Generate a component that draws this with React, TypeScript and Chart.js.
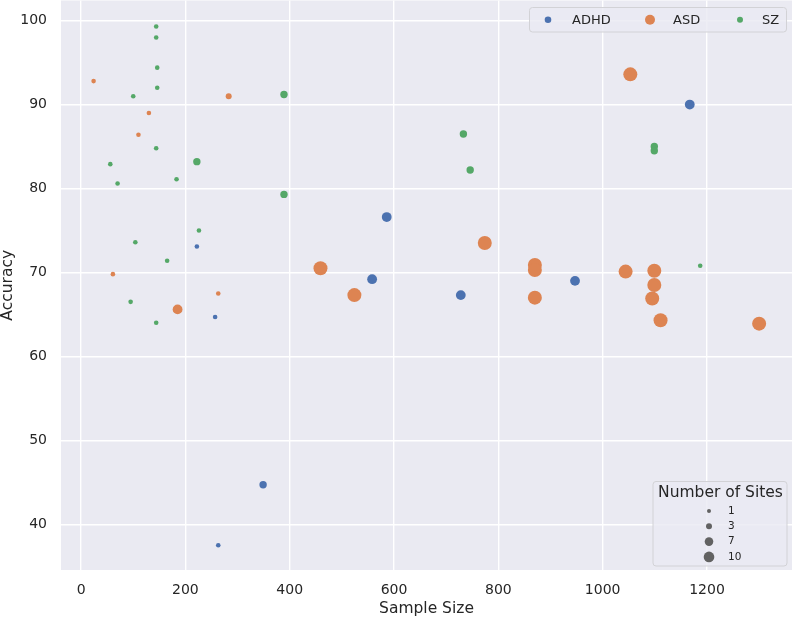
import React, { useEffect, useRef } from "react";
import { Chart, registerables } from "chart.js";

Chart.register(...registerables);

// ---------------- data ----------------
const categories = ["ADHD", "ASD", "SZ"];

const adhdSampleSize = [222, 586, 558, 257, 349, 263, 1167, 728, 947];
const adhdAccuracy = [73.1, 76.6, 69.2, 64.7, 44.7, 37.5, 90.0, 67.3, 69.0];
const adhdSites = [1, 7, 7, 1, 3, 1, 7, 7, 7];

const asdSampleSize = [24, 130, 110, 283, 61, 263, 185, 459, 524, 1053, 774, 870, 870, 870, 1044, 1099, 1099, 1095, 1111, 1300];
const asdAccuracy = [92.8, 89.0, 86.4, 91.0, 69.8, 67.5, 65.6, 70.5, 67.3, 93.6, 73.5, 70.9, 70.3, 67.0, 70.1, 70.2, 68.5, 66.9, 64.3, 63.9];
const asdSites = [1, 1, 1, 2, 1, 1, 7, 10, 10, 10, 10, 10, 10, 10, 10, 10, 10, 10, 10, 10];

const szSampleSize = [144, 144, 146, 146, 100, 144, 56, 70, 183, 222, 389, 389, 226, 104, 165, 95, 144, 733, 746, 1099, 1099, 1187];
const szAccuracy = [99.3, 98.0, 94.4, 92.0, 91.0, 84.8, 82.9, 80.6, 81.1, 83.2, 91.2, 79.3, 75.0, 73.6, 71.4, 66.5, 64.0, 86.5, 82.2, 85.0, 84.5, 70.8];
const szSites = [1, 1, 1, 1, 1, 1, 1, 1, 1, 3, 3, 3, 1, 1, 1, 1, 1, 3, 3, 3, 3, 1];

const sizeLegendLevels = [1, 3, 7, 10];
const xTicks = [0, 200, 400, 600, 800, 1000, 1200];
const yTicks = [40, 50, 60, 70, 80, 90, 100];

const xTitle = "Sample Size";
const yTitle = "Accuracy";
const sizeLegendTitle = "Number of Sites";

// ---------------- styles ----------------
const COLORS = ["#4c72b0", "#dd8452", "#55a868"];
const LEGEND_MARKER_R = [3.3, 5, 3];
const TEXT = "#262626";
const FONT = "DejaVu Sans";

// radius (px) for a number of sites, piecewise interpolation
const radiusKnots = [1, 3, 7, 10];
const radiusVals = [2.3, 3.7, 4.9, 7];
function radiusFor(s: number): number {
  if (s <= radiusKnots[0]) return radiusVals[0];
  for (let i = 1; i < radiusKnots.length; i++) {
    if (s <= radiusKnots[i]) {
      const t = (s - radiusKnots[i - 1]) / (radiusKnots[i] - radiusKnots[i - 1]);
      return radiusVals[i - 1] + t * (radiusVals[i] - radiusVals[i - 1]);
    }
  }
  return radiusVals[radiusVals.length - 1];
}
const legendSizeR = [2, 3, 4.3, 5.3];

const seriesX = [adhdSampleSize, asdSampleSize, szSampleSize];
const seriesY = [adhdAccuracy, asdAccuracy, szAccuracy];
const seriesS = [adhdSites, asdSites, szSites];

const bgPlugin = {
  id: "bgArea",
  beforeDraw(chart: any) {
    const { ctx, chartArea: a } = chart;
    ctx.save();
    ctx.fillStyle = "#eaeaf2";
    ctx.fillRect(a.left, a.top, a.right - a.left, a.bottom - a.top);
    ctx.restore();
  },
};

const legendPlugin = {
  id: "customLegends",
  afterDraw(chart: any) {
    const { ctx, chartArea: a } = chart;
    ctx.save();
    // category legend
    const bx0 = a.right - 263;
    const bx1 = a.right - 6;
    const by0 = a.top + 6.5;
    const by1 = a.top + 31;
    ctx.beginPath();
    (ctx as any).roundRect(bx0 + 0.5, by0 + 0.5, bx1 - bx0, by1 - by0, 3);
    ctx.fillStyle = "rgba(234,234,242,0.8)";
    ctx.fill();
    ctx.strokeStyle = "#d2d2d6";
    ctx.lineWidth = 1;
    ctx.stroke();
    const markerX = [19, 121, 211];
    const textX = [43, 144, 233];
    const cy = (by0 + by1) / 2 + 0.5;
    ctx.font = `13px "${FONT}"`;
    ctx.textBaseline = "middle";
    ctx.textAlign = "left";
    categories.forEach((c, i) => {
      ctx.beginPath();
      ctx.arc(bx0 + markerX[i], cy, LEGEND_MARKER_R[i], 0, Math.PI * 2);
      ctx.fillStyle = COLORS[i];
      ctx.fill();
      ctx.fillStyle = TEXT;
      ctx.fillText(c, bx0 + textX[i], cy + 0.5);
    });

    // size legend
    const sx0 = a.right - 139.5;
    const sx1 = a.right - 5.5;
    const sy0 = a.bottom - 89;
    const sy1 = a.bottom - 4.5;
    ctx.beginPath();
    (ctx as any).roundRect(sx0 + 0.5, sy0 + 0.5, sx1 - sx0, sy1 - sy0, 3);
    ctx.fillStyle = "rgba(234,234,242,0.8)";
    ctx.fill();
    ctx.strokeStyle = "#d2d2d6";
    ctx.stroke();
    ctx.fillStyle = TEXT;
    ctx.font = `15.5px "${FONT}"`;
    ctx.textAlign = "center";
    ctx.fillText(sizeLegendTitle, (sx0 + sx1) / 2 + 1, sy0 + 12);
    ctx.font = `10.5px "${FONT}"`;
    ctx.textAlign = "left";
    sizeLegendLevels.forEach((lv, i) => {
      const yy = sy0 + 30 + i * 15.3;
      ctx.beginPath();
      ctx.arc(sx0 + 56.5, yy, legendSizeR[i], 0, Math.PI * 2);
      ctx.fillStyle = "#626262";
      ctx.fill();
      ctx.fillStyle = TEXT;
      ctx.fillText(String(lv), sx0 + 75.5, yy);
    });
    ctx.restore();
  },
};

function zeroPad(s: any) {
  s.paddingTop = 0;
  s.paddingBottom = 0;
  s.paddingLeft = 0;
  s.paddingRight = 0;
}

export default function App() {
  const ref = useRef<HTMLCanvasElement | null>(null);
  useEffect(() => {
    if (!ref.current) return;
    const datasets = categories.map((c, i) => ({
      label: c,
      data: seriesX[i].map((x, j) => ({ x, y: seriesY[i][j] })),
      backgroundColor: COLORS[i],
      borderWidth: 0,
      pointRadius: (ctx: any) => radiusFor(seriesS[i][ctx.dataIndex] ?? 1),
      pointHoverRadius: (ctx: any) => radiusFor(seriesS[i][ctx.dataIndex] ?? 1),
    }));
    const chart = new Chart(ref.current, {
      type: "scatter",
      data: { datasets },
      options: {
        responsive: false,
        devicePixelRatio: 1,
        animation: false,
        layout: { autoPadding: false, padding: { top: 0.5, right: 2, left: 0, bottom: 0 } },
        plugins: { legend: { display: false }, tooltip: { enabled: false } },
        scales: {
          x: {
            type: "linear",
            min: -38.5,
            max: 1363,
            afterFit: (s: any) => {
              s.height = 49;
              zeroPad(s);
            },
            afterBuildTicks: (s: any) => {
              s.ticks = xTicks.map((v) => ({ value: v }));
            },
            grid: { color: "#ffffff", lineWidth: 1.4, drawTicks: false },
            border: { display: false },
            ticks: {
              color: TEXT,
              font: { family: FONT, size: 14 },
              padding: 12,
              maxRotation: 0,
              callback: (v: any) => String(v),
            },
            title: {
              display: true,
              text: xTitle,
              color: TEXT,
              font: { family: FONT, size: 15.5 },
              padding: { top: 0, bottom: 1 },
            },
          },
          y: {
            type: "linear",
            min: 34.55,
            max: 102.4,
            afterFit: (s: any) => {
              s.width = 61;
              zeroPad(s);
            },
            afterBuildTicks: (s: any) => {
              s.ticks = yTicks.map((v) => ({ value: v }));
            },
            grid: { color: "#ffffff", lineWidth: 1.4, drawTicks: false },
            border: { display: false },
            ticks: {
              color: TEXT,
              font: { family: FONT, size: 14 },
              padding: 14,
              callback: (v: any) => String(v),
            },
            title: {
              display: true,
              text: yTitle,
              color: TEXT,
              font: { family: FONT, size: 15.5 },
              padding: { top: -1, bottom: 0 },
            },
          },
        },
      },
      plugins: [bgPlugin, legendPlugin],
    } as any);
    return () => chart.destroy();
  }, []);
  return (
    <div style={{ position: "absolute", left: 0, top: 0, width: 794, height: 619 }}>
      <canvas ref={ref} width={794} height={619} style={{ width: 794, height: 619, display: "block" }} />
    </div>
  );
}
